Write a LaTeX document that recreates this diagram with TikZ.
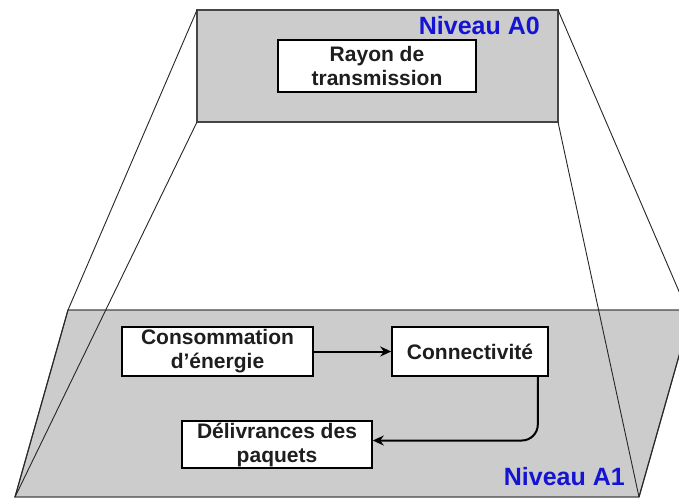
\documentclass[tikz,border=0pt]{standalone}
\usepackage{fontspec}
\setmainfont{Liberation Sans}
\usetikzlibrary{arrows.meta,calc}
\definecolor{panelgray}{RGB}{204,204,204}
\definecolor{edgegray}{RGB}{70,70,70}
\definecolor{lvlblue}{RGB}{20,20,210}
\definecolor{txt}{RGB}{30,30,30}
\tikzset{
  panel/.style={fill=panelgray, draw=edgegray, line width=1.2pt},
  guide/.style={draw=black!85, line width=0.9pt},
  boxnode/.style={draw=black, line width=1.6pt, fill=white, inner sep=0pt,
    align=center, text=txt, font=\fontsize{21}{24}\selectfont\bfseries},
  lvl/.style={text=lvlblue, inner sep=0pt, font=\fontsize{25}{28}\selectfont\bfseries},
  arr/.style={draw=black, line width=2pt, -{Stealth[length=11pt,width=10pt]}}
}
\begin{document}
\begin{tikzpicture}[x=1pt,y=-1pt]
\useasboundingbox (0,0) rectangle (679,499);
\clip (0,0) rectangle (679,499);
\fill[white] (0,0) rectangle (679,499);
% lower plane (level A1)
\coordinate (pTL) at (68,310);
\coordinate (pTR) at (692,310);
\coordinate (pBR) at (639,497);
\coordinate (pBL) at (15,497);
\path[panel] (pTL) -- (pTR) -- (pBR) -- (pBL) -- cycle;
% upper plane (level A0)
\coordinate (tTL) at (197,10);
\coordinate (tTR) at (558,10);
\coordinate (tBR) at (558,122);
\coordinate (tBL) at (197,122);
\path[panel] (tTL) -- (tTR) -- (tBR) -- (tBL) -- cycle;
% projection lines
\coordinate (rEnd) at (687,310);
\draw[guide] (tTL) -- (pTL);
\draw[guide] (tBL) -- (pBL);
\draw[guide] (tTR) -- (rEnd);
\draw[guide] (tBR) -- (pBR);
\draw[guide] (pTL) -- (pBL);
\draw[guide] (pTR) -- (pBR);
% labels
\node[lvl, anchor=base east] (lA0) at (540,34) {Niveau A0};
\node[lvl, anchor=base east] (lA1) at (625,485) {Niveau A1};
% boxes
\node[boxnode, minimum width=198pt, minimum height=52pt] (ray) at (377,66) {Rayon de\\transmission};
\node[boxnode, minimum width=191pt, minimum height=49pt] (cons) at (217.5,351.5) {Consommation\\d’énergie};
\node[boxnode, minimum width=156pt, minimum height=49pt] (conn) at (470,351.5) {Connectivité};
\node[boxnode, minimum width=190pt, minimum height=47pt] (deli) at (277,444.5) {Délivrances des\\paquets};
% connectors
\draw[arr] (cons.east) -- (conn.west);
\draw[arr, rounded corners=16pt] ($(conn.south east)+(-11,0)$) |- ($(deli.east)+(0,-4)$);
\end{tikzpicture}
\end{document}
